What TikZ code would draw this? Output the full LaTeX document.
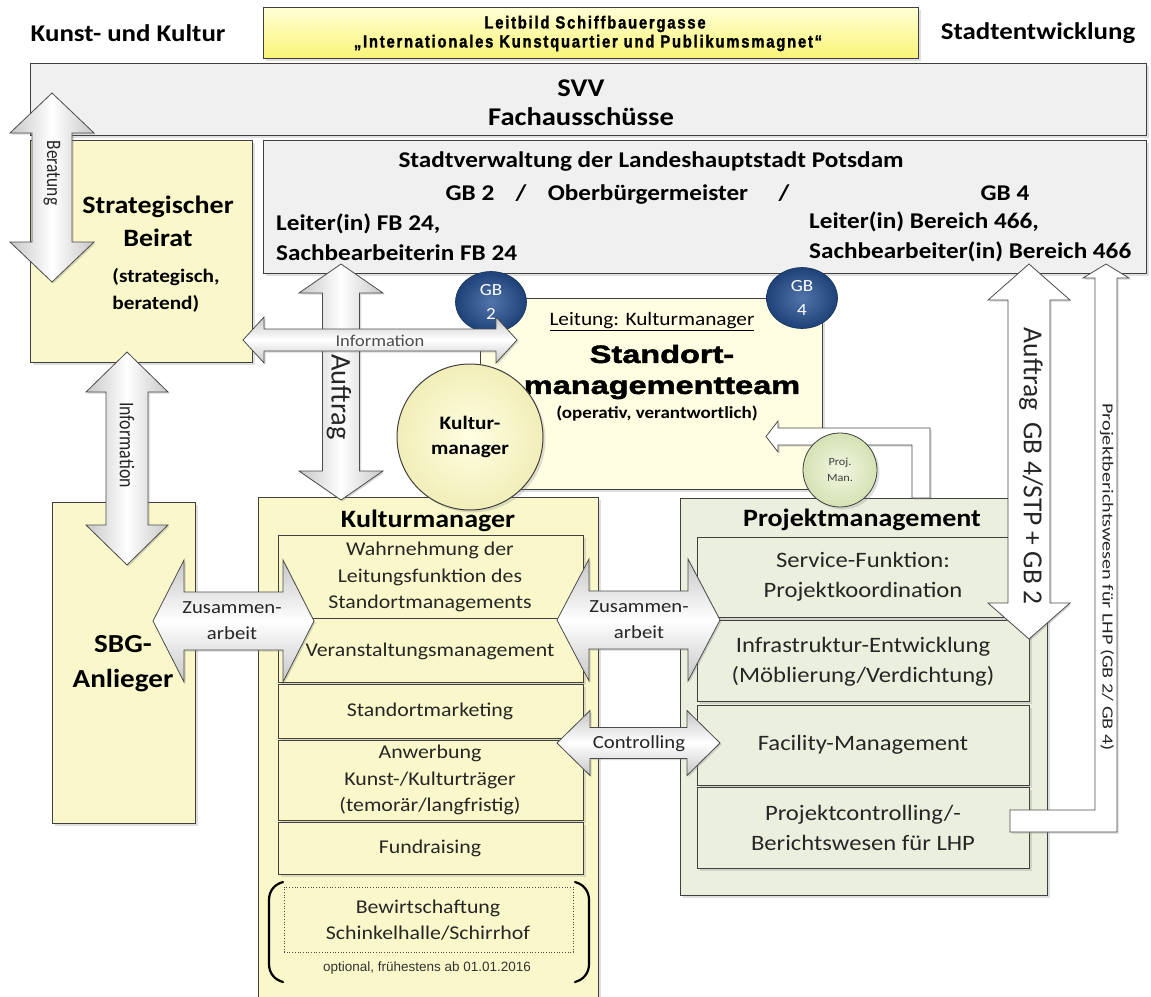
\documentclass[tikz,border=0pt]{standalone}
\usepackage{fontspec}
\setmainfont[FakeStretch=1.12]{Carlito}
\newfontfamily\rotfont{Carlito}
\newfontfamily\rotfontn[FakeStretch=0.85]{Carlito}
\newfontfamily\longfont[FakeStretch=1.3]{Carlito}
\newfontfamily\blackfont[FakeStretch=1.3,FakeBold=2]{Liberation Sans}
\newfontfamily\leitfont[FakeStretch=0.85,LetterSpace=10,FakeBold=1.5]{Liberation Sans}
\newfontfamily\arialfont{Liberation Sans}
\usetikzlibrary{shadows,shapes.geometric}
\definecolor{ylw}{RGB}{250,248,202}
\definecolor{gry}{RGB}{240,240,240}
\definecolor{grn}{RGB}{235,239,222}
\definecolor{bluec}{RGB}{38,82,150}
\definecolor{kmin}{RGB}{255,254,226}
\definecolor{kmout}{RGB}{242,238,185}
\definecolor{pmin}{RGB}{242,247,226}
\definecolor{pmout}{RGB}{212,226,180}
\definecolor{leittop}{RGB}{255,255,215}
\definecolor{leitbot}{RGB}{250,244,120}
\newcommand\setfs[2]{\fontsize{#1}{#2}\selectfont}
% box by corners: style, x1, y1, x2, y2, name
\newcommand\boxn[6]{\node[#1, minimum width={#4-#2}, minimum height={#5-#3}] (#6) at ({(#2+#4)/2},{(#3+#5)/2}) {};}
% vertical double arrow: style, cx, ytop, ybot, shaft half, head half, head length
\newcommand\VA[7]{\path[#1] (#2,#3) -- (#2+#6,#3+#7) -- (#2+#5,#3+#7) -- (#2+#5,#4-#7) -- (#2+#6,#4-#7) -- (#2,#4) -- (#2-#6,#4-#7) -- (#2-#5,#4-#7) -- (#2-#5,#3+#7) -- (#2-#6,#3+#7) -- cycle;}
% horizontal double arrow: style, cy, xl, xr, shaft half, head half, head length
\newcommand\HA[7]{\path[#1] (#3,#2) -- (#3+#7,#2-#6) -- (#3+#7,#2-#5) -- (#4-#7,#2-#5) -- (#4-#7,#2-#6) -- (#4,#2) -- (#4-#7,#2+#6) -- (#4-#7,#2+#5) -- (#3+#7,#2+#5) -- (#3+#7,#2+#6) -- cycle;}
\begin{document}
\begin{tikzpicture}[x=1pt,y=-1pt,
  shd/.style={drop shadow={shadow xshift=2.5pt,shadow yshift=-2.5pt,opacity=0.25}},
  bx/.style={draw=black!75, line width=0.9pt, inner sep=0pt, shd},
  ybox/.style={bx, fill=ylw},
  gbox/.style={bx, fill=gry},
  pbox/.style={bx, fill=grn},
  lbl/.style={inner sep=0pt, align=center, text=black},
  sublbl/.style={inner sep=0pt, align=center, text=black!85, font=\setfs{19.5}{26.5}},
  pmlbl/.style={inner sep=0pt, align=center, text=black!85, font=\setfs{22}{30}},
  title/.style={inner sep=0pt, align=center, font=\setfs{25}{29}\bfseries},
  stx/.style={inner sep=0pt, anchor=base, font=\setfs{22.5}{30}\bfseries},
  va/.style={draw=black!70, line width=0.8pt, line join=miter, left color=black!22, right color=black!22, middle color=white, drop shadow={shadow xshift=1.5pt,shadow yshift=-1.5pt,opacity=0.3}},
  ha/.style={draw=black!70, line width=0.8pt, line join=miter, top color=black!22, bottom color=black!22, middle color=white, drop shadow={shadow xshift=1.5pt,shadow yshift=-1.5pt,opacity=0.3}},
  pa/.style={draw=black!70, line width=0.8pt, line join=miter, fill=white, drop shadow={shadow xshift=1.5pt,shadow yshift=-1.5pt,opacity=0.3}},
  atext/.style={inner sep=0pt, text=black!85},
  gbc/.style={ellipse, inner sep=0pt, minimum width=71pt, minimum height=61pt, draw=bluec!60!black, line width=0.6pt, inner color=bluec!80!white, outer color=bluec!80!black, text=white, align=center, font=\setfs{17}{24}},
]
\useasboundingbox (0,0) rectangle (1151,996);

% ---------- top row ----------
\node[lbl, font=\setfs{24}{28}\bfseries] (kk) at (128,33) {Kunst- und Kultur};
\node[lbl, font=\setfs{24}{28}\bfseries] (se) at (1038,33) {Stadtentwicklung};
\boxn{bx, top color=leittop, bottom color=leitbot}{263}{7}{918}{58}{leit}
\node[lbl, font=\leitfont\setfs{17.5}{18}\bfseries] (leit1) at (595,24) {Leitbild Schiffbauergasse};
\node[lbl, font=\leitfont\setfs{17.5}{18}\bfseries] (leit2) at (588,43) {„Internationales Kunstquartier und Publikumsmagnet“};

\boxn{gbox}{30}{63}{1146}{135}{svv}
\node[lbl, font=\setfs{25.5}{29}\bfseries] (svvt) at (581,88) {SVV};
\node[lbl, font=\setfs{25.5}{29}\bfseries] (fat) at (581,117) {Fachausschüsse};

% ---------- Beirat & Stadtverwaltung ----------
\boxn{ybox}{30}{140}{252}{362}{beirat}
\node[title, font=\setfs{25}{33}\bfseries] (beiratt) at (158,221) {Strategischer\\Beirat};
\node[lbl, font=\setfs{19}{27}\bfseries, align=left] (beirats) at (166,290) {(strategisch,\\beratend)};

\boxn{gbox}{263}{140}{1146}{273}{stadt}
\node[lbl, font=\setfs{22.5}{30}\bfseries] (st1) at (651,162) {Stadtverwaltung der Landeshauptstadt Potsdam};
\node[stx] (st2a) at (470,200) {GB 2};
\node[stx] (st2b) at (521,200) {/};
\node[stx] (st2c) at (648,200) {Oberbürgermeister};
\node[stx] (st2d) at (784,200) {/};
\node[stx] (st2e) at (1005,200) {GB 4};
\node[lbl, font=\setfs{22.5}{30}\bfseries, anchor=west, align=left] (st3) at (276,237) {Leiter(in) FB 24,\\Sachbearbeiterin FB 24};
\node[lbl, font=\setfs{22.5}{30}\bfseries, anchor=west, align=left] (st4) at (809,237) {Leiter(in) Bereich 466,\\Sachbearbeiter(in) Bereich 466};

% ---------- Standortmanagementteam ----------
\boxn{bx, fill=kmin}{480}{298}{822}{489}{smt}
\node[lbl, font=\setfs{19}{24}] (smtl) at (652,322) {\underline{Leitung: Kulturmanager}};
\node[lbl, font=\blackfont\setfs{25}{31}\bfseries] (smtt) at (662,372) {Standort-\\managementteam};
\node[lbl, font=\setfs{17}{22}\bfseries] (smto) at (657,414) {(operativ, verantwortlich)};

% ---------- SBG-Anlieger ----------
\boxn{ybox}{52}{502}{195}{823}{sbg}
\node[title, font=\setfs{26}{35}\bfseries] (sbgt) at (123,664) {SBG-\\Anlieger};

% ---------- Kulturmanager column ----------
\boxn{ybox}{258}{497}{598}{1010}{km}
\node[title] (kmt) at (428,521) {Kulturmanager};
\boxn{ybox}{278}{535}{583}{618}{km1}
\node[sublbl] (km1t) at (430,577) {Wahrnehmung der\\Leitungsfunktion des\\Standortmanagements};
\boxn{ybox}{278}{618}{583}{682}{km2}
\node[sublbl] (km2t) at (430,651) {Veranstaltungsmanagement};
\boxn{ybox}{278}{684}{583}{738}{km3}
\node[sublbl] (km3t) at (430,711) {Standortmarketing};
\boxn{ybox}{278}{740}{583}{820}{km4}
\node[sublbl] (km4t) at (430,780) {Anwerbung\\Kunst-/Kulturträger\\(temorär/langfristig)};
\boxn{ybox}{278}{822}{583}{874}{km5}
\node[sublbl] (km5t) at (430,848) {Fundraising};
\boxn{draw=black!70, line width=0.7pt, dotted, fill=ylw, inner sep=0pt}{284}{887}{573}{952}{km6}
\node[sublbl] (km6t) at (428,920) {Bewirtschaftung\\Schinkelhalle/Schirrhof};
\node[lbl, font=\arialfont\setfs{13.5}{16}, text=black!80] (opt) at (427,968) {optional, frühestens ab 01.01.2016};
\coordinate (lpa) at (283,882); \coordinate (lpb) at (283,982);
\coordinate (rpa) at (575,882); \coordinate (rpb) at (575,982);
\draw[line width=2.2pt, line cap=round] (lpa) to[out=195,in=90] (269,900) -- (269,964) to[out=-90,in=165] (lpb);
\draw[line width=2.2pt, line cap=round] (rpa) to[out=-15,in=90] (589,900) -- (589,964) to[out=-90,in=15] (rpb);

% ---------- Projektmanagement column ----------
\boxn{pbox}{680}{498}{1047}{895}{pm}
\node[title] (pmt) at (862,520) {Projektmanagement};
\boxn{pbox}{697}{537}{1029}{617}{pm1}
\node[pmlbl] (pm1t) at (863,577) {Service-Funktion:\\Projektkoordination};
\boxn{pbox}{697}{620}{1029}{701}{pm2}
\node[pmlbl] (pm2t) at (863,662) {Infrastruktur-Entwicklung\\(Möblierung/Verdichtung)};
\boxn{pbox}{697}{705}{1029}{785}{pm3}
\node[pmlbl] (pm3t) at (863,745) {Facility-Management};
\boxn{pbox}{697}{787}{1029}{868}{pm4}
\node[pmlbl] (pm4t) at (863,828) {Projektcontrolling/-\\Berichtswesen für LHP};

% ---------- GB circles ----------
\node[gbc] (gb2) at (491,302) {GB\\2};
\node[gbc] (gb4) at (802,298) {GB\\4};

% ---------- block arrows ----------
\VA{va}{52}{93}{282}{20}{42}{40}
\node[atext, rotate=-90, font=\rotfontn\setfs{20.5}{22}] (berat) at (52,173) {Beratung};

\VA{va}{341}{264}{500}{18.5}{42}{29}
\node[atext, rotate=-90, font=\rotfont\setfs{28.5}{30}] (auft) at (339,397) {Auftrag};

\HA{ha}{340}{243}{517}{11}{23}{21}
\node[atext, font=\setfs{16.5}{20}, text=black!70] (infoh) at (380,341) {Information};

\VA{va}{127}{352}{565}{21}{41}{40}
\node[atext, rotate=-90, font=\rotfontn\setfs{21}{23}] (infov) at (127,445) {Information};

\HA{ha}{621}{153}{314}{29}{61}{31}
\node[atext, font=\setfs{18.5}{26}, align=center] (zus1) at (232,621) {Zusammen-\\arbeit};

\HA{ha}{620}{557}{720}{29}{61}{32}
\node[atext, font=\setfs{18.5}{26}, align=center] (zus2) at (639,620) {Zusammen-\\arbeit};

\HA{ha}{743}{557}{720}{15.5}{32.5}{33}
\node[atext, font=\setfs{18.5}{22}] (ctrl) at (639,744) {Controlling};

\VA{pa}{1029}{264}{639}{21}{41}{36}
\node[atext, rotate=-90, font=\rotfont\setfs{27.5}{30}] (aufgb) at (1031,466) {Auftrag\ \ GB 4/STP + GB 2};

\coordinate (pbstart) at (1010,821);
\path[pa] (1010,810) -- (1095,810) -- (1095,278) -- (1083,278) -- (1106,264) -- (1129,278) -- (1117,278) -- (1117,832) -- (1010,832) -- cycle;
\node[atext, rotate=-90, font=\longfont\setfs{15.5}{18}] (pbt) at (1107,577) {Projektberichtswesen für LHP (GB 2/ GB 4)};

\path[pa] (912,498) -- (912,445) -- (778,445) -- (778,452) -- (766,436.5) -- (778,421) -- (778,428) -- (930,428) -- (930,498) -- cycle;

% ---------- circles on top ----------
\node[circle, minimum size=146pt, inner sep=0pt, draw=black!75, line width=1pt, inner color=kmin, outer color=kmout, shd, align=center, font=\setfs{19}{25}\bfseries] (kmc) at (470,437) {Kultur-\\manager};
\node[circle, minimum size=74pt, inner sep=0pt, draw=black!75, line width=0.8pt, inner color=pmin, outer color=pmout, shd, align=center, text=black!75, font=\setfs{11}{16}] (pmc) at (840,470) {Proj.\\Man.};
\end{tikzpicture}
\end{document}
